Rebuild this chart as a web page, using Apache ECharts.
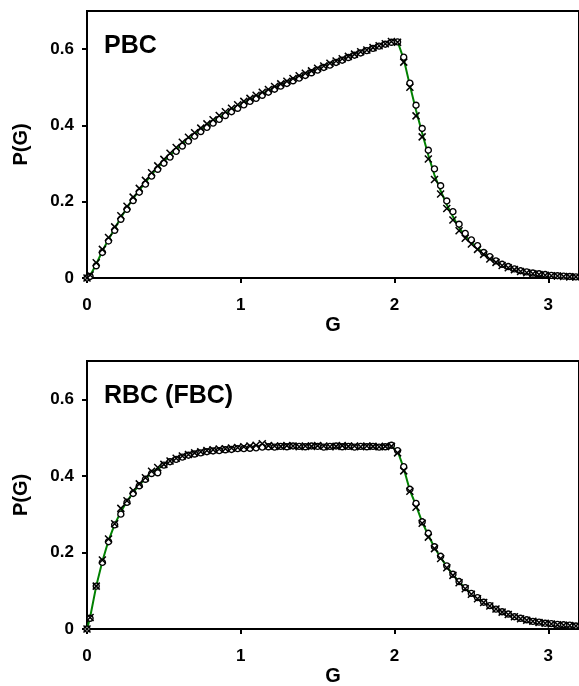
<!DOCTYPE html>
<html>
<head>
<meta charset="utf-8">
<script src="https://cdn.jsdelivr.net/npm/echarts@6/dist/echarts.min.js"></script>
<style>
    html, body { margin: 0; padding: 0; background: #fff; }
    #chart { width: 579px; height: 686px; }
</style>
</head>
<body>
<div id="chart"></div>
<script>
// G positions of the samples (line and markers share them)
const gValues = [0, 0.02, 0.06, 0.10, 0.14, 0.18, 0.22, 0.26, 0.30, 0.34, 0.38, 0.42, 0.46, 0.50, 0.54, 0.58,
    0.62, 0.66, 0.70, 0.74, 0.78, 0.82, 0.86, 0.90, 0.94, 0.98, 1.02, 1.06, 1.10, 1.14, 1.18, 1.22, 1.26,
    1.30, 1.34, 1.38, 1.42, 1.46, 1.50, 1.54, 1.58, 1.62, 1.66, 1.70, 1.74, 1.78, 1.82, 1.86, 1.90, 1.94,
    1.98, 2.02, 2.06, 2.10, 2.14, 2.18, 2.22, 2.26, 2.30, 2.34, 2.38, 2.42, 2.46, 2.50, 2.54, 2.58, 2.62,
    2.66, 2.70, 2.74, 2.78, 2.82, 2.86, 2.90, 2.94, 2.98, 3.02, 3.06, 3.10, 3.14, 3.18, 3.22];

// PBC panel
const pbcFit = [0, 0.006, 0.036, 0.071, 0.101, 0.130, 0.158, 0.184, 0.208, 0.230, 0.251, 0.271, 0.290, 0.306,
    0.322, 0.337, 0.351, 0.364, 0.377, 0.389, 0.400, 0.411, 0.421, 0.431, 0.441, 0.450, 0.459, 0.467, 0.475,
    0.483, 0.491, 0.499, 0.506, 0.513, 0.520, 0.527, 0.534, 0.541, 0.548, 0.554, 0.560, 0.567, 0.573, 0.579,
    0.585, 0.591, 0.597, 0.603, 0.608, 0.613, 0.619,
    0.620, 0.574, 0.505, 0.440, 0.380, 0.322, 0.270, 0.229, 0.192, 0.161, 0.132, 0.110, 0.093, 0.079, 0.064,
    0.053, 0.043, 0.035, 0.028, 0.023, 0.018, 0.015, 0.012, 0.010, 0.008, 0.007, 0.005, 0.004, 0.004, 0.003, 0.002];
const pbcCircles = [0, 0.004, 0.032, 0.067, 0.097, 0.125, 0.154, 0.180, 0.203, 0.225, 0.246, 0.267, 0.285, 0.301,
    0.317, 0.332, 0.346, 0.359, 0.372, 0.384, 0.395, 0.406, 0.416, 0.426, 0.436, 0.445, 0.454, 0.463, 0.471,
    0.479, 0.487, 0.495, 0.503, 0.510, 0.517, 0.524, 0.531, 0.538, 0.545, 0.552, 0.558, 0.565, 0.571, 0.578,
    0.584, 0.590, 0.596, 0.602, 0.608, 0.613, 0.618,
    0.619, 0.579, 0.511, 0.453, 0.392, 0.335, 0.286, 0.242, 0.202, 0.174, 0.141, 0.117, 0.100, 0.085, 0.067,
    0.056, 0.045, 0.036, 0.030, 0.024, 0.019, 0.016, 0.013, 0.011, 0.009, 0.007, 0.006, 0.005, 0.004, 0.003, 0.003];
const pbcCrosses = [0, 0.008, 0.040, 0.075, 0.106, 0.134, 0.163, 0.188, 0.212, 0.235, 0.256, 0.276, 0.294, 0.311,
    0.327, 0.342, 0.356, 0.369, 0.381, 0.393, 0.404, 0.415, 0.426, 0.436, 0.445, 0.454, 0.463, 0.471, 0.479,
    0.487, 0.494, 0.502, 0.509, 0.516, 0.523, 0.530, 0.537, 0.543, 0.550, 0.556, 0.563, 0.569, 0.575, 0.581,
    0.587, 0.593, 0.598, 0.604, 0.609, 0.614, 0.620,
    0.618, 0.566, 0.500, 0.425, 0.370, 0.312, 0.258, 0.220, 0.182, 0.152, 0.124, 0.104, 0.089, 0.075, 0.062,
    0.050, 0.041, 0.033, 0.027, 0.022, 0.017, 0.014, 0.011, 0.009, 0.007, 0.006, 0.005, 0.004, 0.003, 0.003, 0.002];

// RBC (FBC) panel
const rbcFit = [0, 0.030, 0.112, 0.177, 0.231, 0.273, 0.306, 0.333, 0.357, 0.376, 0.393, 0.408, 0.419, 0.428,
    0.437, 0.444, 0.450, 0.455, 0.458, 0.461, 0.464, 0.466, 0.468, 0.470, 0.471, 0.472, 0.473, 0.474, 0.475,
    0.476, 0.476, 0.477, 0.477, 0.477, 0.477, 0.477, 0.477, 0.477, 0.477, 0.477, 0.477, 0.477, 0.477, 0.477,
    0.477, 0.477, 0.477, 0.477, 0.477, 0.477, 0.477,
    0.465, 0.420, 0.362, 0.323, 0.279, 0.245, 0.213, 0.187, 0.163, 0.142, 0.123, 0.107, 0.092, 0.080, 0.070,
    0.061, 0.052, 0.045, 0.039, 0.033, 0.028, 0.024, 0.020, 0.017, 0.015, 0.013, 0.012, 0.010, 0.009, 0.008, 0.007];
const rbcCircles = [0, 0.028, 0.112, 0.174, 0.228, 0.272, 0.300, 0.331, 0.354, 0.374, 0.391, 0.406, 0.408, 0.428,
    0.437, 0.443, 0.449, 0.454, 0.457, 0.460, 0.463, 0.465, 0.466, 0.468, 0.469, 0.471, 0.471, 0.472, 0.473,
    0.475, 0.476, 0.475, 0.477, 0.476, 0.478, 0.477, 0.476, 0.478, 0.477, 0.475, 0.477, 0.478, 0.476, 0.477,
    0.475, 0.477, 0.476, 0.477, 0.475, 0.476, 0.480,
    0.466, 0.424, 0.365, 0.328, 0.280, 0.250, 0.215, 0.190, 0.165, 0.143, 0.124, 0.108, 0.093, 0.082, 0.070,
    0.061, 0.052, 0.045, 0.039, 0.032, 0.028, 0.024, 0.020, 0.018, 0.015, 0.014, 0.012, 0.011, 0.010, 0.008, 0.007];
const rbcCrosses = [0, 0.030, 0.112, 0.180, 0.235, 0.275, 0.315, 0.335, 0.362, 0.379, 0.395, 0.412, 0.422, 0.430,
    0.439, 0.446, 0.452, 0.456, 0.460, 0.463, 0.466, 0.468, 0.470, 0.471, 0.473, 0.474, 0.476, 0.478, 0.480,
    0.484, 0.479, 0.478, 0.477, 0.479, 0.478, 0.476, 0.478, 0.477, 0.479, 0.478, 0.476, 0.477, 0.479, 0.477,
    0.478, 0.476, 0.478, 0.477, 0.476, 0.477, 0.477,
    0.460, 0.413, 0.360, 0.318, 0.276, 0.240, 0.210, 0.184, 0.160, 0.140, 0.121, 0.105, 0.091, 0.079, 0.069,
    0.060, 0.052, 0.044, 0.038, 0.032, 0.027, 0.023, 0.020, 0.017, 0.015, 0.013, 0.011, 0.010, 0.009, 0.008, 0.007];

const panelLabels = ["PBC", "RBC (FBC)"];

const FONT = "'Liberation Sans', Arial, sans-serif";
const crossSymbol = "path://M0,0L10,10M10,0L0,10";

function toPairs(ys) {
    return gValues.map(function (g, i) { return [g, ys[i]]; });
}

function panelSeries(idx, fit, circles, crosses) {
    return [
        {
            type: "line",
            xAxisIndex: idx,
            yAxisIndex: idx,
            data: toPairs(fit),
            showSymbol: false,
            lineStyle: { color: "#008000", width: 2 },
            z: 2
        },
        {
            type: "scatter",
            xAxisIndex: idx,
            yAxisIndex: idx,
            data: toPairs(circles),
            symbol: "circle",
            symbolSize: 6,
            itemStyle: { color: "#fff", borderColor: "#000", borderWidth: 1.4, opacity: 1 },
            z: 3
        },
        {
            type: "scatter",
            xAxisIndex: idx,
            yAxisIndex: idx,
            data: toPairs(crosses),
            symbol: crossSymbol,
            symbolSize: 7,
            itemStyle: { color: "none", borderColor: "#000", borderWidth: 1.5, opacity: 1 },
            z: 4
        }
    ];
}

function xAxisFor(idx) {
    return {
        type: "value",
        gridIndex: idx,
        min: 0,
        max: 3.2,
        interval: 1,
        name: "G",
        nameLocation: "middle",
        nameGap: 37,
        nameTextStyle: { fontSize: 20, fontWeight: "bold", color: "#000", fontFamily: FONT },
        axisLine: { onZero: false, lineStyle: { color: "#000", width: 2 } },
        axisTick: { length: 5, lineStyle: { color: "#000", width: 2 } },
        axisLabel: { margin: 19, fontSize: 17, fontWeight: "bold", color: "#000", fontFamily: FONT,
            showMaxLabel: false },
        splitLine: { show: false }
    };
}

function yAxisFor(idx) {
    return {
        type: "value",
        gridIndex: idx,
        min: 0,
        max: 0.7,
        interval: 0.2,
        name: "P(G)",
        nameLocation: "middle",
        nameGap: 56,
        nameRotate: 90,
        nameTextStyle: { fontSize: 20, fontWeight: "bold", color: "#000", fontFamily: FONT },
        axisLine: { show: true, lineStyle: { color: "#000", width: 2 } },
        axisTick: { show: true, length: 5, lineStyle: { color: "#000", width: 2 } },
        axisLabel: { margin: 13, fontSize: 17, fontWeight: "bold", color: "#000", fontFamily: FONT,
            showMaxLabel: false },
        splitLine: { show: false }
    };
}

const chart = echarts.init(document.getElementById("chart"), null, { renderer: "canvas" });

const option = {
    backgroundColor: "#fff",
    animation: false,
    title: panelLabels.map(function (txt, i) {
        return {
            text: txt,
            left: 104,
            top: i === 0 ? 34 : 384,
            padding: 0,
            textStyle: { fontSize: 25, fontWeight: "bold", color: "#000", fontFamily: FONT }
        };
    }),
    grid: [
        { left: 87, top: 11, right: 0, height: 267, show: true, borderColor: "#000", borderWidth: 2,
            outerBoundsMode: "none", containLabel: false },
        { left: 87, top: 361, right: 0, height: 268, show: true, borderColor: "#000", borderWidth: 2,
            outerBoundsMode: "none", containLabel: false }
    ],
    xAxis: [xAxisFor(0), xAxisFor(1)],
    yAxis: [yAxisFor(0), yAxisFor(1)],
    series: panelSeries(0, pbcFit, pbcCircles, pbcCrosses)
        .concat(panelSeries(1, rbcFit, rbcCircles, rbcCrosses))
};

chart.setOption(option);
</script>
</body>
</html>
